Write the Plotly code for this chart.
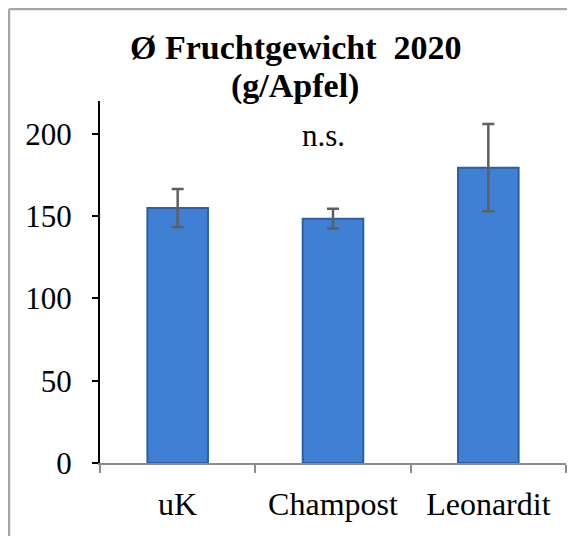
import plotly.graph_objects as go

categories = ["uK", "Champost", "Leonardit"]
values = [155, 148.5, 179.5]
errors = [11.5, 6, 26.5]
y_ticks = [0, 50, 100, 150, 200]
title_lines = ["Ø Fruchtgewicht\u00a0\u00a02020", "(g/Apfel)"]

FONT = "Liberation Serif"
W, H = 567, 528
L, R, T, B = 92, 9, 93, 73
PW, PH = W - L - R, H - T - B

fig = go.Figure()
fig.add_trace(go.Bar(
    x=categories, y=values, width=0.39,
    marker=dict(color="#3f80d4", line=dict(color="#2c5fa8", width=2)),
    error_y=dict(type="data", array=errors, visible=True, color="#5f5f5f", thickness=2.5, width=6),
))

fig.add_annotation(x=1, y=199, text="n.s.", showarrow=False, xref="x", yref="y", xshift=-10,
                   font=dict(family=FONT, size=31, color="#000"))

# title, two lines placed individually
for i, line in enumerate(title_lines):
    y_fig = 40 + 38 * i
    fig.add_annotation(x=(287 - L) / PW, y=(H - B - y_fig) / PH, xref="paper", yref="paper",
                       text=f"<b>{line}</b>", showarrow=False, xanchor="center", yanchor="middle",
                       font=dict(family=FONT, size=34, color="#000"))

# outer frame (left and top edges visible)
fx = (1 - L) / PW
fy = (H - B - 1) / PH
fig.add_shape(type="line", xref="paper", yref="paper", x0=fx, x1=fx, y0=-B / PH - 0.01, y1=fy,
              line=dict(color="#a6a6a6", width=2.5))
fig.add_shape(type="line", xref="paper", yref="paper", x0=fx, x1=(W - L) / PW + 0.01, y0=fy, y1=fy,
              line=dict(color="#a6a6a6", width=2.5))

fig.update_layout(
    width=W, height=H,
    margin=dict(l=L, r=R, t=T, b=B),
    paper_bgcolor="white", plot_bgcolor="white",
    showlegend=False,
    font=dict(family=FONT, size=31, color="#000"),
)
fig.update_yaxes(range=[0, 220], tickvals=y_ticks, showgrid=False, zeroline=False,
                 showline=True, linecolor="#000", linewidth=2,
                 ticks="outside", ticklen=6, tickwidth=2, tickcolor="#000",
                 ticklabelstandoff=14, tickfont=dict(family=FONT, size=31))
fig.update_xaxes(range=[-0.5, 2.5], showgrid=False, showline=True, linecolor="#8c8c8c", linewidth=2,
                 ticks="outside", tickson="boundaries", ticklen=8, tickwidth=2, tickcolor="#8c8c8c",
                 ticklabelstandoff=12, tickfont=dict(family=FONT, size=32))

fig.write_html("out.html")
